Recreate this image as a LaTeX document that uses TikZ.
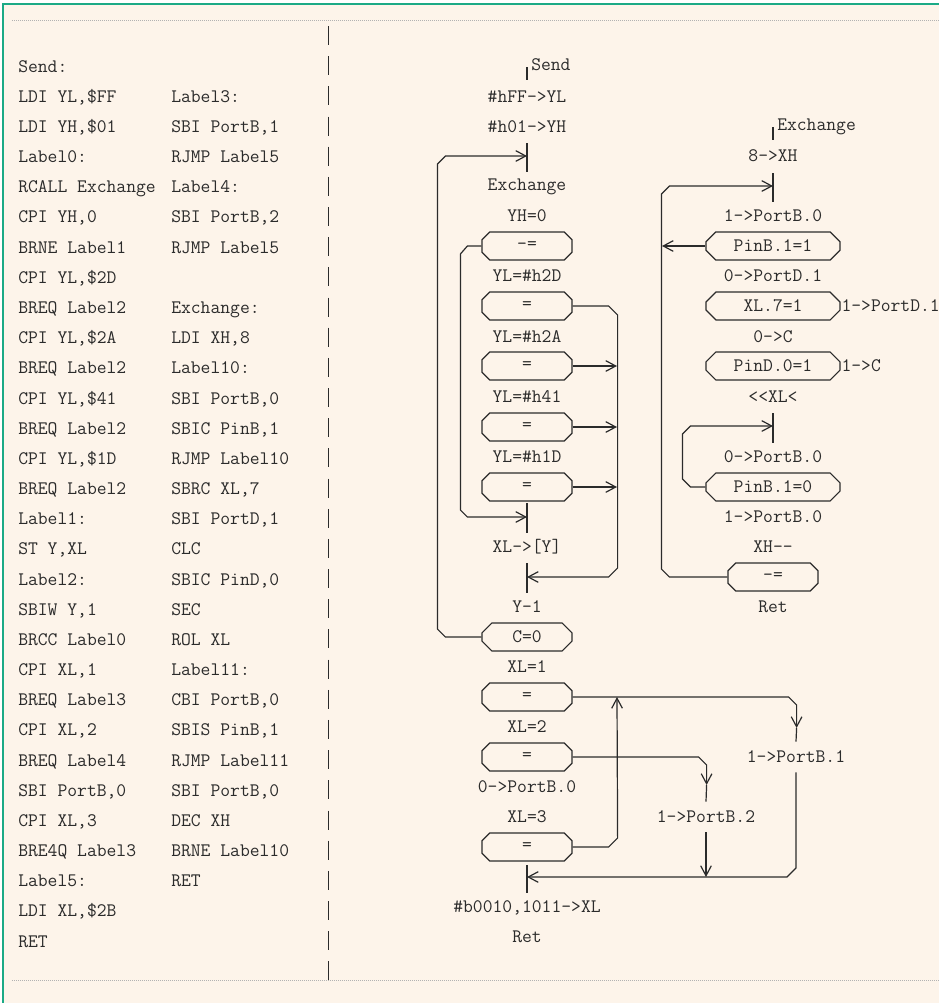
\documentclass[tikz,border=0pt]{standalone}
\usepackage{xcolor}
\usepackage{tikz}
\usetikzlibrary{arrows.meta,positioning,calc,shapes.misc}
\definecolor{ink}{HTML}{2B2B2B}
\definecolor{paper}{HTML}{FDF4EA}
\definecolor{framegreen}{HTML}{1BAA86}
\newcommand{\codesize}{\fontsize{14.3}{22.63}\selectfont}
\tikzset{
  codecol/.style={anchor=north west, align=left, inner sep=0pt, text=ink, font=\ttfamily\codesize},
  lbl/.style={inner sep=0pt, text=ink, font=\ttfamily\codesize, text height=8.7pt, text depth=0pt},
  cond/.style={draw=ink, line width=0.9pt, chamfered rectangle, chamfered rectangle xsep=5.5pt, minimum width=67.5pt, minimum height=21pt, inner sep=0pt, text=ink, font=\ttfamily\codesize},
  widecond/.style={cond, minimum width=100.5pt},
  wire/.style={draw=ink, line width=0.9pt},
  flow/.style={wire, -{Straight Barb[length=7.5pt,width=8pt]}}
}

\begin{document}
\begin{tikzpicture}[x=0.75pt,y=-0.75pt]
\useasboundingbox (0,0) rectangle (939,1003);
\fill[white] (0,0) rectangle (939,1003);
\fill[paper] (3,4) rectangle (939,1003);
\draw[framegreen, line width=1.2pt] (3,1003) -- (3,4) -- (939,4);
\draw[gray!60, line width=0.6pt, dash pattern=on 0.75pt off 0.75pt] (12,20) -- (939,20);
\draw[gray!60, line width=0.6pt, dash pattern=on 0.75pt off 0.75pt] (12,980) -- (939,980);
\draw[ink, line width=0.75pt, dash pattern=on 14.25pt off 8.38pt] (328,26) -- (328,981);

% assembler listing
\node[codecol] (codeMain) at (18,50.7) {\strut Send:\\LDI YL,\$FF\\LDI YH,\$01\\Label0:\\RCALL Exchange\\CPI YH,0\\BRNE Label1\\CPI YL,\$2D\\BREQ Label2\\CPI YL,\$2A\\BREQ Label2\\CPI YL,\$41\\BREQ Label2\\CPI YL,\$1D\\BREQ Label2\\Label1:\\ST Y,XL\\Label2:\\SBIW Y,1\\BRCC Label0\\CPI XL,1\\BREQ Label3\\CPI XL,2\\BREQ Label4\\SBI PortB,0\\CPI XL,3\\BRE4Q Label3\\Label5:\\LDI XL,\$2B\\RET};
\node[codecol] (codeSub) at (171,80.9) {\strut Label3:\\SBI PortB,1\\RJMP Label5\\Label4:\\SBI PortB,2\\RJMP Label5\\\mbox{}\\Exchange:\\LDI XH,8\\Label10:\\SBI PortB,0\\SBIC PinB,1\\RJMP Label10\\SBRC XL,7\\SBI PortD,1\\CLC\\SBIC PinD,0\\SEC\\ROL XL\\Label11:\\CBI PortB,0\\SBIS PinB,1\\RJMP Label11\\SBI PortB,0\\DEC XH\\BRNE Label10\\RET};

% flowchart Send
\draw[wire] (527,67) -- (527,80);
\node[lbl, anchor=west] (sendName) at (531,65) {Send};
\node[lbl] (setYL) at (527,97) {\#hFF->YL};
\node[lbl] (setYH) at (527,127) {\#h01->YH};
\coordinate (jLoop) at (527,156);
\draw[wire] (527,143) -- (527,172);
\node[lbl] (callExch) at (527,185) {Exchange};
\node[lbl] (tstYH) at (527,216) {YH=0};
\node[cond] (neYH) at (527,246) {-=};
\node[lbl] (tst2D) at (527,276) {YL=\#h2D};
\node[cond] (eq2D) at (527,306) {=};
\node[lbl] (tst2A) at (527,337) {YL=\#h2A};
\node[cond] (eq2A) at (527,366) {=};
\node[lbl] (tst41) at (527,397) {YL=\#h41};
\node[cond] (eq41) at (527,427) {=};
\node[lbl] (tst1D) at (527,457) {YL=\#h1D};
\node[cond] (eq1D) at (527,487) {=};
\coordinate (jStore) at (527,517);
\draw[wire] (527,503) -- (527,533);
\node[lbl] (store) at (527,547) {XL->[Y]};
\coordinate (jDec) at (527,577);
\draw[wire] (527,563) -- (527,593);
\node[lbl] (decY) at (527,607) {Y-1};
\node[cond] (tstC) at (527,637) {C=0};
\node[lbl] (tstX1) at (527,667) {XL=1};
\node[cond] (eqX1) at (527,697) {=};
\node[lbl] (tstX2) at (527,727) {XL=2};
\node[cond] (eqX2) at (527,757) {=};
\node[lbl] (clrB0) at (527,787) {0->PortB.0};
\node[lbl] (tstX3) at (527,817) {XL=3};
\node[cond] (eqX3) at (527,847) {=};
\coordinate (jEnd) at (527,877);
\draw[wire] (527,865) -- (527,893);
\node[lbl] (setXL) at (527,907) {\#b0010,1011->XL};
\node[lbl] (retSend) at (527,937) {Ret};
\coordinate (busR) at (617,315);
\node[lbl, inner ysep=7pt] (setB1) at (796,757) {1->PortB.1};
\node[lbl, inner ysep=7pt] (setB2) at (706,817) {1->PortB.2};

\draw[flow] (tstC.west) -- ++(-36,0) -- ++(-8,-8) -- ++(0,-465) -- ++(8,-8) -- (jLoop);
\draw[flow] (neYH.west) -- ++(-14,0) -- ++(-7,8) -- ++(0,256) -- ++(7,7) -- (jStore);
\draw[flow] (eq2D.east) -- ++(36,0) -- ++(9,9) -- ++(0,253) -- ++(-9,9) -- (jDec);
\draw[flow] (eq2A.east) -- (eq2A.east -| busR);
\draw[flow] (eq41.east) -- (eq41.east -| busR);
\draw[flow] (eq1D.east) -- (eq1D.east -| busR);
\draw[flow] (eqX3.east) -- ++(36,0) -- ++(9,-9) -- (eqX1.east -| busR);
\draw[flow] (eqX1.east) -- ++(216,0) -- ++(8,8) -- ++(0,23) coordinate (tipB1);
\draw[wire] (tipB1) -- (setB1.north);
\draw[flow] (setB1.south) -- ($(setB1.south |- jEnd)+(0,-9)$) -- ++(-9,9) -- (jEnd);
\draw[flow] (eqX2.east) -- ++(126,0) -- ++(8,8) -- ++(0,20) coordinate (tipB2);
\draw[wire] (tipB2) -- (setB2.north);
\draw[flow] (setB2.south) -- (setB2.south |- jEnd);

% flowchart Exchange
\draw[wire] (773,127) -- (773,140);
\node[lbl, anchor=west] (exchName) at (777,125) {Exchange};
\node[lbl] (setXH) at (773,156) {8->XH};
\coordinate (jBit) at (773,186);
\draw[wire] (773,173) -- (773,202);
\node[lbl] (setB0a) at (773,216) {1->PortB.0};
\node[widecond] (waitHi) at (773,246) {PinB.1=1};
\node[lbl] (clrD1) at (773,276) {0->PortD.1};
\node[widecond] (tstBit) at (773,306) {XL.7=1};
\node[lbl, right=0.5pt of tstBit] (setD1) {1->PortD.1};
\node[lbl] (clrC) at (773,337) {0->C};
\node[widecond] (tstPinD) at (773,366) {PinD.0=1};
\node[lbl, right=0.5pt of tstPinD] (setC) {1->C};
\node[lbl] (rolXL) at (773,397) {<{}<XL<};
\coordinate (jWait) at (773,426);
\draw[wire] (773,413) -- (773,443);
\node[lbl] (clrB0b) at (773,457) {0->PortB.0};
\node[widecond] (waitLo) at (773,487) {PinB.1=0};
\node[lbl] (setB0b) at (773,517) {1->PortB.0};
\node[lbl] (decXH) at (773,547) {XH-{}-};
\node[cond] (neXH) at (773,577) {-=};
\node[lbl] (retExch) at (773,607) {Ret};
\coordinate (busL) at (662,194);

\draw[flow] (neXH.west) -- ++(-58,0) -- ++(-8,-8) -- ++(0,-375) -- ++(8,-8) -- (jBit);
\draw[flow] (waitHi.west) -- (waitHi.west -| busL);
\draw[flow] (waitLo.west) -- ++(-15,0) -- ++(-8,-8) -- ++(0,-45) -- ++(8,-8) -- (jWait);
\end{tikzpicture}
\end{document}
